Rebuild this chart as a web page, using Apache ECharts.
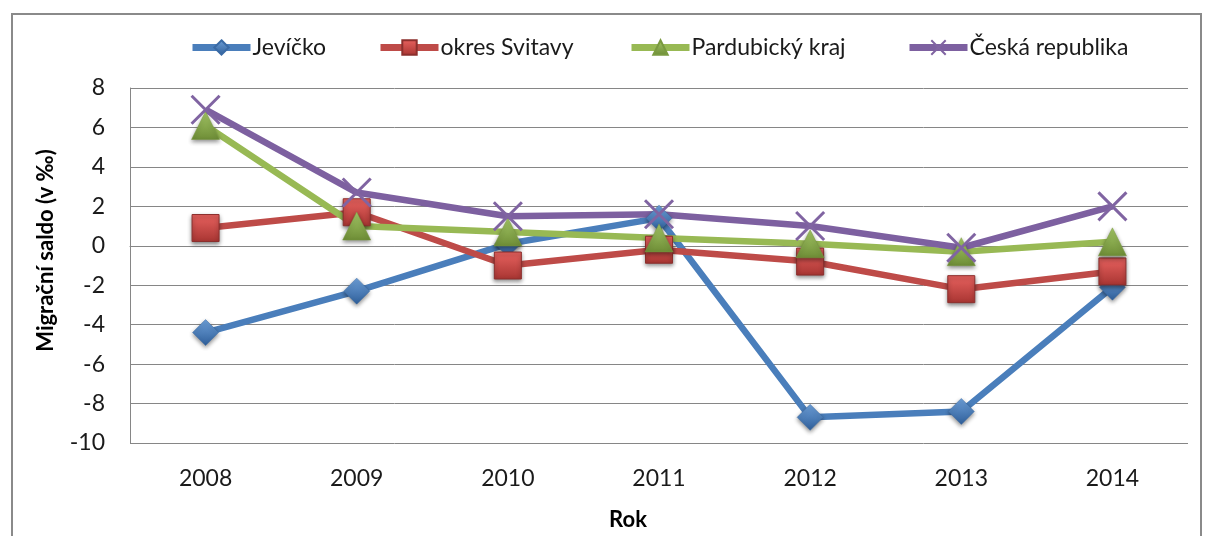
<!DOCTYPE html>
<html>
<head>
<meta charset="utf-8">
<script src="https://cdn.jsdelivr.net/npm/echarts@6/dist/echarts.min.js"></script>
<style>
  html, body { margin: 0; padding: 0; background: #fff; }
  #chart { width: 1205px; height: 536px; }
</style>
</head>
<body>
<div id="chart"></div>
<script>
// roky
const years = ['2008', '2009', '2010', '2011', '2012', '2013', '2014']
// migrační saldo v promile
const jevicko = [-4.4, -2.3, 0.1, 1.4, -8.7, -8.4, -2.1]
const svitavy = [0.9, 1.7, -1.0, -0.2, -0.8, -2.2, -1.3]
const pardubicky = [6.1, 1.0, 0.7, 0.4, 0.1, -0.3, 0.2]
const cr = [6.9, 2.7, 1.5, 1.6, 1.0, -0.1, 2.0]
const names = ['Jevíčko', 'okres Svitavy', 'Pardubický kraj', 'Česká republika']

const font = 'Lato, "Open Sans", sans-serif'

// 3D-ish fill jako v Excelu
function grad(light, dark) {
  return new echarts.graphic.LinearGradient(0, 0, 0, 1, [
    { offset: 0, color: light },
    { offset: 1, color: dark },
  ])
}

const markerShadow = {
  shadowColor: 'rgba(0, 0, 0, 0.45)',
  shadowBlur: 4,
  shadowOffsetY: 2,
}

function makeSeries(name, data, symbol, size, lineColor, itemStyle) {
  return {
    name,
    type: 'line',
    data,
    symbol,
    symbolSize: size,
    showAllSymbol: true,
    lineStyle: { color: lineColor, width: 6.5 },
    itemStyle: Object.assign({}, markerShadow, itemStyle),
    emphasis: { disabled: true },
    animation: false,
  }
}

// jedna legenda na položku, ať sedí pozice
const legendLeft = [184, 372, 623, 901]
const legends = names.map((n, i) => ({
  top: 31,
  left: legendLeft[i],
  itemWidth: 58,
  itemHeight: 18,
  lineStyle: { width: 7 },
  textStyle: { fontFamily: font, fontSize: 23, color: '#1a1a1a', padding: [0, 0, 0, -3] },
  data: [n],
}))

const chart = echarts.init(document.getElementById('chart'))
chart.setOption({
  backgroundColor: '#fff',
  graphic: [
    {
      type: 'rect',
      shape: { x: 12, y: 14, width: 1189, height: 600 },
      style: { fill: 'none', stroke: '#8a8a8a', lineWidth: 2 },
      silent: true,
    },
  ],
  legend: legends,
  grid: {
    left: 130,
    right: 17,
    top: 88,
    bottom: 93,
    outerBoundsMode: 'none',
  },
  xAxis: {
    type: 'category',
    data: years,
    boundaryGap: true,
    name: 'Rok',
    nameLocation: 'middle',
    nameGap: 66,
    nameTextStyle: {
      fontFamily: font, fontSize: 22, fontWeight: 'bold', color: '#000',
      padding: [0, 62, 0, 0],
    },
    axisLine: { show: true, lineStyle: { color: '#868686', width: 1 } },
    axisTick: { show: false },
    axisLabel: { fontFamily: font, fontSize: 23, color: '#1a1a1a', margin: 24 },
  },
  yAxis: {
    type: 'value',
    min: -10,
    max: 8,
    interval: 2,
    name: 'Migrační saldo (v ‰)',
    nameLocation: 'middle',
    nameGap: 73,
    nameTextStyle: {
      fontFamily: font, fontSize: 22, fontWeight: 'bold', color: '#000',
      padding: [0, 0, 0, 30],
    },
    axisLine: { show: true, lineStyle: { color: '#868686', width: 1 } },
    axisTick: { show: false },
    axisLabel: { fontFamily: font, fontSize: 23, color: '#1a1a1a', margin: 25 },
    splitLine: { show: true, lineStyle: { color: '#868686', width: 1 } },
  },
  series: [
    makeSeries(names[0], jevicko, 'diamond', 26, '#4a7ebb', {
      color: grad('#6d9fd8', '#2f5f9a'), borderColor: '#3a6aa5', borderWidth: 0.5,
    }),
    makeSeries(names[1], svitavy, 'rect', 27, '#be4b48', {
      color: grad('#e8625f', '#a83532'), borderColor: '#8c2f2d', borderWidth: 1,
    }),
    makeSeries(names[2], pardubicky, 'triangle', 28, '#98b954', {
      color: grad('#a4c766', '#6e8d36'), borderColor: '#7a9a40', borderWidth: 0.5,
    }),
    makeSeries(names[3], cr, 'path://M0,0 L10,10 M10,0 L0,10', 28, '#7d60a0', {
      color: 'rgba(0,0,0,0)', borderColor: '#8064a2', borderWidth: 3,
      shadowBlur: 0, shadowOffsetY: 0,
    }),
  ],
})
</script>
</body>
</html>
